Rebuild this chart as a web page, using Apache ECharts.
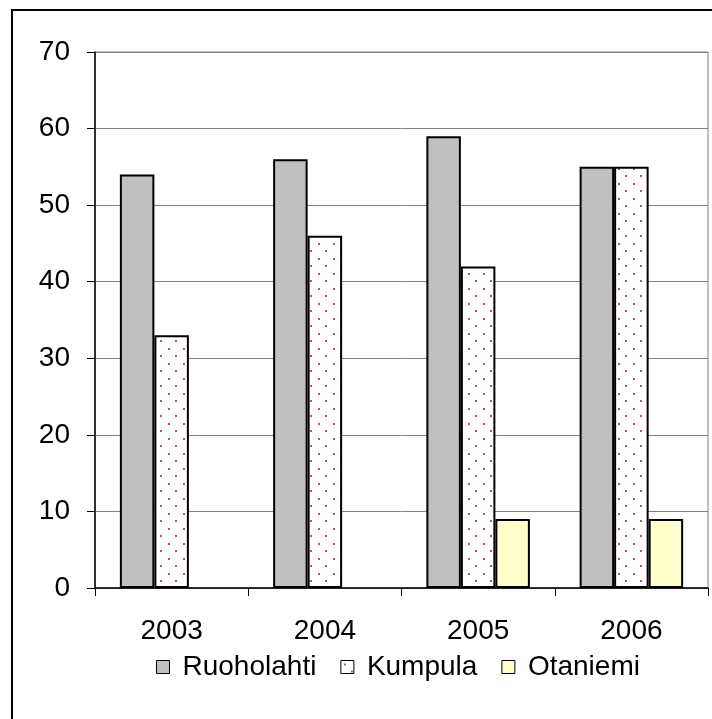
<!DOCTYPE html>
<html>
<head>
<meta charset="utf-8">
<script src="https://cdn.jsdelivr.net/npm/echarts@6/dist/echarts.min.js"></script>
<style>
  html, body { margin: 0; padding: 0; background: #fff; }
  #chart { width: 712px; height: 719px; }
</style>
</head>
<body>
<div id="chart"></div>
<script>
var years = ['2003', '2004', '2005', '2006'];
var ruoholahti = [54, 56, 59, 55];
var kumpula = [33, 46, 42, 55];
var otaniemi = ['-', '-', 9, 9];

// dotted fill like the Excel pattern
function dotPattern() {
    var c = document.createElement('canvas');
    c.width = 15;
    c.height = 15;
    var ctx = c.getContext('2d');
    ctx.fillStyle = '#ffffff';
    ctx.fillRect(0, 0, 15, 15);
    ctx.fillStyle = '#b05088';
    ctx.fillRect(3, 3, 2, 2);
    ctx.fillRect(10, 10, 2, 2);
    return c;
}

var myChart = echarts.init(document.getElementById('chart'));
var font = 'Liberation Sans, Arial, sans-serif';

var option = {
    animation: false,
    backgroundColor: '#fff',
    textStyle: { fontFamily: font },
    graphic: [{
        type: 'rect',
        shape: { x: 12, y: 10, width: 800, height: 800 },
        style: { fill: 'none', stroke: '#000', lineWidth: 2 }
    }],
    grid: {
        left: 95, right: 4, top: 52, bottom: 131,
        show: true, borderColor: '#808080', borderWidth: 1
    },
    legend: {
        top: 648,
        left: 151,
        itemWidth: 13,
        itemHeight: 13,
        itemGap: 24,
        icon: 'rect',
        itemStyle: { borderColor: '#000', borderWidth: 1 },
        textStyle: { fontSize: 28, color: '#000', fontFamily: font, padding: [0, 0, 0, 8] },
        data: ['Ruoholahti', 'Kumpula', 'Otaniemi']
    },
    xAxis: {
        type: 'category',
        data: years,
        axisLine: { lineStyle: { color: '#000', width: 1.5 } },
        axisTick: { show: true, length: 8, lineStyle: { color: '#000' } },
        axisLabel: { fontSize: 28, color: '#000', margin: 29, fontFamily: font }
    },
    yAxis: {
        type: 'value',
        min: 0, max: 70, interval: 10,
        axisLine: { show: true, lineStyle: { color: '#000', width: 1.5 } },
        axisTick: { show: true, length: 8, lineStyle: { color: '#000' } },
        axisLabel: { fontSize: 28, color: '#000', margin: 25, fontFamily: font },
        splitLine: { lineStyle: { color: '#808080', width: 1 } }
    },
    series: [
        {
            name: 'Ruoholahti', type: 'bar', data: ruoholahti,
            barWidth: 34.5, barGap: '0%',
            itemStyle: { color: '#c0c0c0', borderColor: '#000', borderWidth: 2 }
        },
        {
            name: 'Kumpula', type: 'bar', data: kumpula,
            barWidth: 34.5, barGap: '0%',
            itemStyle: {
                color: { image: dotPattern(), repeat: 'repeat' },
                borderColor: '#000', borderWidth: 2
            }
        },
        {
            name: 'Otaniemi', type: 'bar', data: otaniemi,
            barWidth: 34.5, barGap: '0%',
            itemStyle: { color: '#ffffcc', borderColor: '#000', borderWidth: 2 }
        }
    ]
};

myChart.setOption(option);
</script>
</body>
</html>
